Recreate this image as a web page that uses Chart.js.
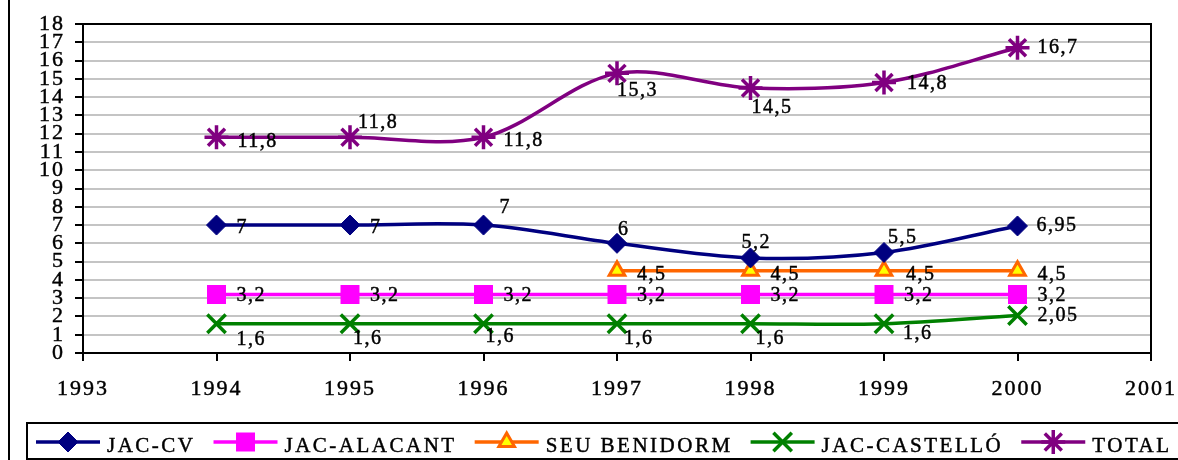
<!DOCTYPE html>
<html>
<head>
<meta charset="utf-8">
<script src="https://cdn.jsdelivr.net/npm/chart.js@4/dist/chart.umd.min.js"></script>
<style>
  html, body { margin: 0; padding: 0; background: #fff; }
  canvas { display: block; }
</style>
</head>
<body>
<canvas id="chart" width="1178" height="460"></canvas>
<script>
(function () {
  const years = [1994, 1995, 1996, 1997, 1998, 1999, 2000];
  const jacCv = [7, 7, 7, 6, 5.2, 5.5, 6.95];
  const jacAlacant = [3.2, 3.2, 3.2, 3.2, 3.2, 3.2, 3.2];
  const seuBenidorm = [null, null, null, 4.5, 4.5, 4.5, 4.5];
  const jacCastello = [1.6, 1.6, 1.6, 1.6, 1.6, 1.6, 2.05];
  const total = [11.8, 11.8, 11.8, 15.3, 14.5, 14.8, 16.7];
  const xRange = [1993, 2001];
  const yRange = [0, 18];

  // where each value label sits relative to its point: [dx to left edge, dy to text middle]
  const cvLabelPos = [[20, 3], [20, 3], [16, -17], [1, -14], [-9, -15], [4, -15], [19, 0]];
  const alacantLabelPos = [[20, 1], [20, 1], [20, 1], [20, 1], [20, 1], [20, 1], [20, 1]];
  const benidormLabelPos = [null, null, null, [20, 4], [20, 4], [22, 4], [20, 4]];
  const castelloLabelPos = [[20, 16], [3, 15], [2, 13], [7, 15], [5, 15], [19, 10], [20, 0]];
  const totalLabelPos = [[21, 4], [8, -15], [20, 3], [0, 17], [1, 20], [23, 1], [20, 0]];

  const FONT = "'Liberation Serif', 'Times New Roman', serif";
  const TEXT_STROKE = 0.45;

  const series = [
    { label: "JAC-CV", values: jacCv, labelPos: cvLabelPos, color: "#000080", fill: "#000080", style: "rectRot", radius: 10, bw: 1 },
    { label: "JAC-ALACANT", values: jacAlacant, labelPos: alacantLabelPos, color: "#FF00FF", fill: "#FF00FF", style: "rect", radius: 12, bw: 2 },
    { label: "SEU BENIDORM", values: seuBenidorm, labelPos: benidormLabelPos, color: "#FF6600", fill: "#FFFF00", style: "triangle", radius: 9, bw: 3 },
    { label: "JAC-CASTELLÓ", values: jacCastello, labelPos: castelloLabelPos, color: "#008000", fill: "#008000", style: "crossRot", radius: 13, bw: 3.5 },
    { label: "TOTAL", values: total, labelPos: totalLabelPos, color: "#800080", fill: "#800080", style: "star", radius: 12, bw: 3.5 },
  ];

  const datasets = series.map((s) => ({
    label: s.label,
    data: years.map((yr, i) => ({ x: yr, y: s.values[i] })),
    borderColor: s.color,
    backgroundColor: s.fill,
    borderWidth: 3.5,
    tension: 0.33,
    pointStyle: s.style,
    pointRadius: s.radius,
    pointBorderWidth: s.bw,
    pointBorderColor: s.color,
    pointBackgroundColor: s.fill,
  }));

  const fmt = (v) => String(v).replace(".", ",");

  function boldText(ctx, text, x, y) {
    ctx.fillText(text, x, y);
    ctx.strokeText(text, x, y);
  }

  const spacing = {
    id: "spacing",
    beforeDraw(chart) {
      chart.ctx.letterSpacing = "2px";
    },
  };

  const frame = {
    id: "frame",
    beforeDatasetsDraw(chart) {
      const { ctx, chartArea: a } = chart;
      ctx.save();
      ctx.strokeStyle = "#000";
      ctx.lineWidth = 2;
      ctx.strokeRect(a.left, a.top, a.right - a.left, a.bottom - a.top);
      ctx.restore();
    },
  };

  const valueLabels = {
    id: "valueLabels",
    afterDatasetsDraw(chart) {
      const ctx = chart.ctx;
      ctx.save();
      ctx.font = "20px " + FONT;
      ctx.letterSpacing = "1.5px";
      ctx.fillStyle = "#000";
      ctx.strokeStyle = "#000";
      ctx.lineWidth = TEXT_STROKE;
      ctx.textAlign = "left";
      ctx.textBaseline = "middle";
      series.forEach((s, i) => {
        chart.getDatasetMeta(i).data.forEach((pt, j) => {
          const v = s.values[j];
          if (v == null || !s.labelPos[j]) return;
          const [dx, dy] = s.labelPos[j];
          boldText(ctx, fmt(v), pt.x + dx, pt.y + dy);
        });
      });
      ctx.restore();
    },
  };

  const legendBox = {
    id: "legendBox",
    afterDraw(chart) {
      const ctx = chart.ctx;
      ctx.save();
      ctx.strokeStyle = "#000";
      ctx.lineWidth = 2;
      ctx.beginPath();
      ctx.moveTo(9, 0);
      ctx.lineTo(9, 460);
      ctx.stroke();
      ctx.strokeRect(27, 423, 1200, 36);

      ctx.font = "21px " + FONT;
      ctx.letterSpacing = "2.5px";
      ctx.textAlign = "left";
      ctx.textBaseline = "alphabetic";
      let x = 36;
      const yLine = 442;
      series.forEach((s) => {
        ctx.strokeStyle = s.color;
        ctx.lineWidth = 3.5;
        ctx.beginPath();
        ctx.moveTo(x, yLine);
        ctx.lineTo(x + 64, yLine);
        ctx.stroke();
        ctx.fillStyle = s.fill;
        ctx.strokeStyle = s.color;
        ctx.lineWidth = s.bw;
        Chart.helpers.drawPoint(ctx, { pointStyle: s.style, rotation: 0, radius: s.radius, borderWidth: s.bw }, x + 32, yLine);
        ctx.fillStyle = "#000";
        ctx.strokeStyle = "#000";
        ctx.lineWidth = TEXT_STROKE;
        const tx = x + 71;
        boldText(ctx, s.label, tx, 452);
        x = tx + ctx.measureText(s.label).width + 18;
      });
      ctx.restore();
    },
  };

  const tickFont = { family: FONT, size: 22, lineHeight: 1 };

  new Chart(document.getElementById("chart"), {
    type: "line",
    data: { datasets },
    options: {
      responsive: false,
      animation: false,
      layout: { padding: { left: 0, top: 24, right: 27, bottom: 37 } },
      plugins: { legend: { display: false }, tooltip: { enabled: false } },
      scales: {
        x: {
          type: "linear",
          min: xRange[0],
          max: xRange[1],
          border: { display: false },
          grid: { drawOnChartArea: false, tickLength: 8, tickColor: "#000", lineWidth: 2 },
          ticks: {
            stepSize: 1, color: "#000", padding: 17, font: tickFont,
            textStrokeColor: "#000", textStrokeWidth: TEXT_STROKE,
            callback: (v) => String(v),
          },
          afterFit(s) {
            s.height = 70;
            s.paddingLeft = 0;
            s.paddingRight = 0;
          },
        },
        y: {
          min: yRange[0],
          max: yRange[1],
          border: { display: false },
          grid: { color: "#c4c4c4", lineWidth: 2, tickLength: 8, tickColor: "#000" },
          ticks: {
            stepSize: 1, autoSkip: false, color: "#000", padding: 10, font: tickFont,
            textStrokeColor: "#000", textStrokeWidth: TEXT_STROKE,
          },
          afterFit(s) {
            s.width = 83;
            s.paddingTop = 0;
            s.paddingBottom = 0;
          },
        },
      },
    },
    plugins: [spacing, frame, valueLabels, legendBox],
  });
})();
</script>
</body>
</html>
